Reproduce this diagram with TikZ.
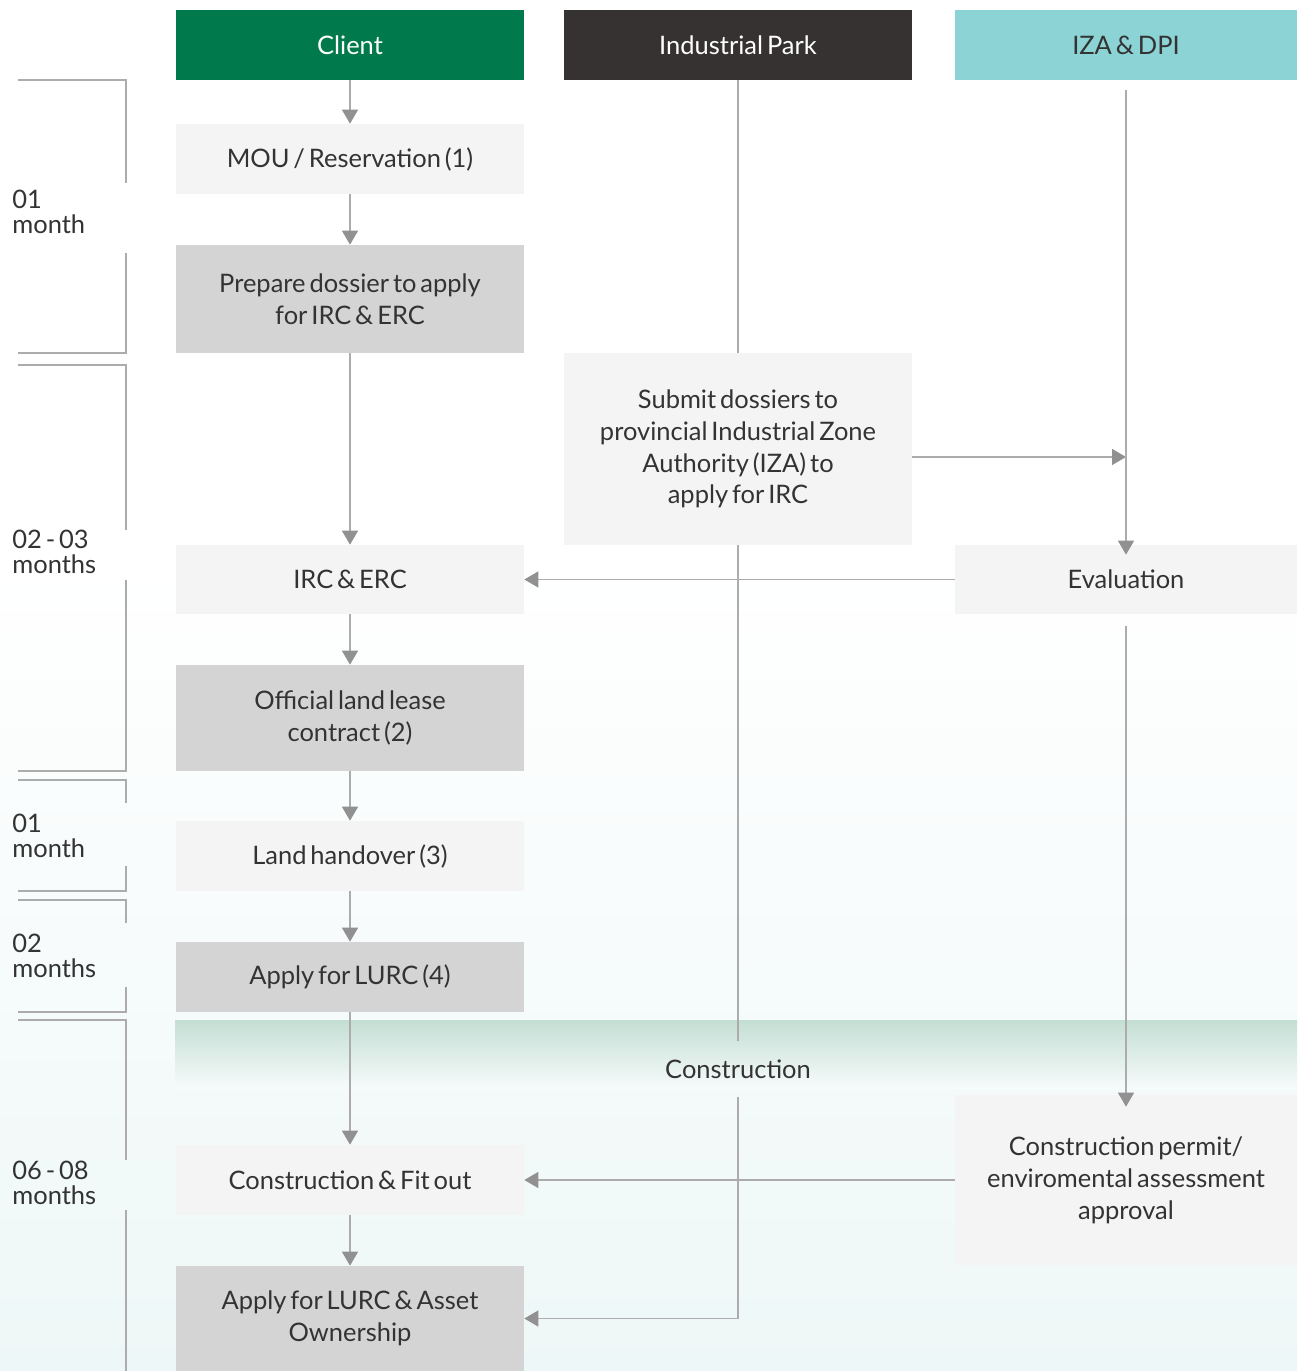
\documentclass[tikz,border=0pt]{standalone}
\usepackage{fontspec}
\setmainfont{Lato}[WordSpace=0.6]
\usetikzlibrary{arrows.meta,positioning}

\definecolor{clientgreen}{RGB}{0,122,76}
\definecolor{parkdark}{RGB}{54,50,50}
\definecolor{izateal}{RGB}{140,211,214}
\definecolor{boxlight}{RGB}{244,244,244}
\definecolor{boxdark}{RGB}{212,212,212}
\definecolor{inkgray}{RGB}{51,51,51}
\definecolor{linegray}{RGB}{172,172,172}
\definecolor{tipgray}{RGB}{145,145,145}
\definecolor{bgmint}{RGB}{238,247,247}
\definecolor{bandmint}{RGB}{196,222,212}

\begin{document}
\begin{tikzpicture}[x=0.02cm, y=-0.02cm,
    font=\fontsize{14.5}{18.1}\selectfont,
    header/.style={minimum width=6.96cm, minimum height=1.4cm, inner sep=0pt, align=center},
    lightbox/.style={fill=boxlight, text=inkgray, minimum width=6.96cm, inner sep=0pt, align=center},
    darkbox/.style={lightbox, fill=boxdark},
    period/.style={anchor=west, align=left, inner sep=0pt, text=inkgray, font=\fontsize{14.5}{14.2}\selectfont},
    flow/.style={draw=linegray, line width=0.8pt, -{Triangle[width=0.32cm, length=0.28cm, color=tipgray]}},
    lane/.style={draw=linegray, line width=0.8pt},
    bracket/.style={draw=linegray, line width=0.9pt}]

    % Background
    \fill[white] (0,0) rectangle (1297,1371);
    \shade[top color=white, bottom color=bgmint] (0,560) rectangle (1297,1371);
    \shade[top color=bandmint, bottom color=bgmint!50!white] (175,1020) rectangle (1297,1088);
    \useasboundingbox (0,0) rectangle (1297,1371);

    % Headers
    \node[header, fill=clientgreen, text=white] (client) at (350,45) {Client};
    \node[header, fill=parkdark, text=white] (park) at (738,45) {Industrial Park};
    \node[header, fill=izateal, text=inkgray, minimum width=6.84cm] (iza) at (1126,45) {IZA \& DPI};

    % Client column
    \node[lightbox, minimum height=1.4cm] (mou) at (350,159) {MOU / Reservation (1)};
    \node[darkbox, minimum height=2.16cm] (prep) at (350,299) {Prepare dossier to apply\\for IRC \& ERC};
    \node[lightbox, minimum height=1.38cm] (irc) at (350,579.5) {IRC \& ERC};
    \node[darkbox, minimum height=2.12cm] (lease) at (350,718) {Official land lease\\contract (2)};
    \node[lightbox, minimum height=1.4cm] (handover) at (350,856) {Land handover (3)};
    \node[darkbox, minimum height=1.4cm] (lurc) at (350,977) {Apply for LURC (4)};
    \node[lightbox, minimum height=1.4cm] (fitout) at (350,1180) {Construction \& Fit out};
    \node[darkbox, minimum height=2.1cm] (asset) at (350,1318.5) {Apply for LURC \& Asset\\Ownership};

    % Industrial park and IZA columns
    \node[lightbox, minimum height=3.84cm] (submit) at (738,449) {Submit dossiers to\\provincial Industrial Zone\\Authority (IZA) to\\apply for IRC};
    \node[inner sep=0pt, minimum height=1.1cm, text=inkgray] (constr) at (738,1069) {Construction};
    \node[lightbox, minimum width=6.84cm, minimum height=1.38cm] (eval) at (1126,579.5) {Evaluation};
    \node[lightbox, minimum width=6.84cm, minimum height=3.4cm] (permit) at (1126,1180) {Construction permit/\\enviromental assessment\\approval};
    \coordinate (izajoin) at (1126,457);

    % Client arrows
    \draw[flow] (client) -- (mou);
    \draw[flow] (mou) -- (prep);
    \draw[flow] (prep) -- (irc);
    \draw[flow] (irc) -- (lease);
    \draw[flow] (lease) -- (handover);
    \draw[flow] (handover) -- (lurc);
    \draw[flow] (lurc) -- (fitout);
    \draw[flow] (fitout) -- (asset);

    % Lanes across
    \draw[lane] (park) -- (submit);
    \draw[lane] (submit) -- (constr);
    \draw[flow] (constr) |- (asset);
    \draw[flow] (submit.east |- izajoin) -- (izajoin);
    \draw[flow, shorten <=0.2cm, shorten >=-0.2cm] (iza) -- (eval);
    \draw[flow] (eval) -- (irc);
    \draw[flow, shorten <=0.24cm, shorten >=-0.24cm] (eval) -- (permit);
    \draw[flow] (permit) -- (fitout);

    % Time brackets
    \foreach \top/\gapa/\gapb/\bot in {80/183/253/353, 365/530/580/771, 780/803/866/891, 900/923/987/1012} {
        \draw[bracket] (18,\top) -- (126,\top) -- (126,\gapa);
        \draw[bracket] (126,\gapb) -- (126,\bot) -- (18,\bot);
    }
    \draw[bracket] (18,1020) -- (126,1020) -- (126,1160);
    \draw[bracket] (126,1210) -- (126,1371);

    \node[period] (t1) at (12,212) {01\\month};
    \node[period] (t2) at (12,552) {02 - 03\\months};
    \node[period] (t3) at (12,836) {01\\month};
    \node[period] (t4) at (12,956) {02\\months};
    \node[period] (t5) at (12,1183) {06 - 08\\months};
\end{tikzpicture}
\end{document}
